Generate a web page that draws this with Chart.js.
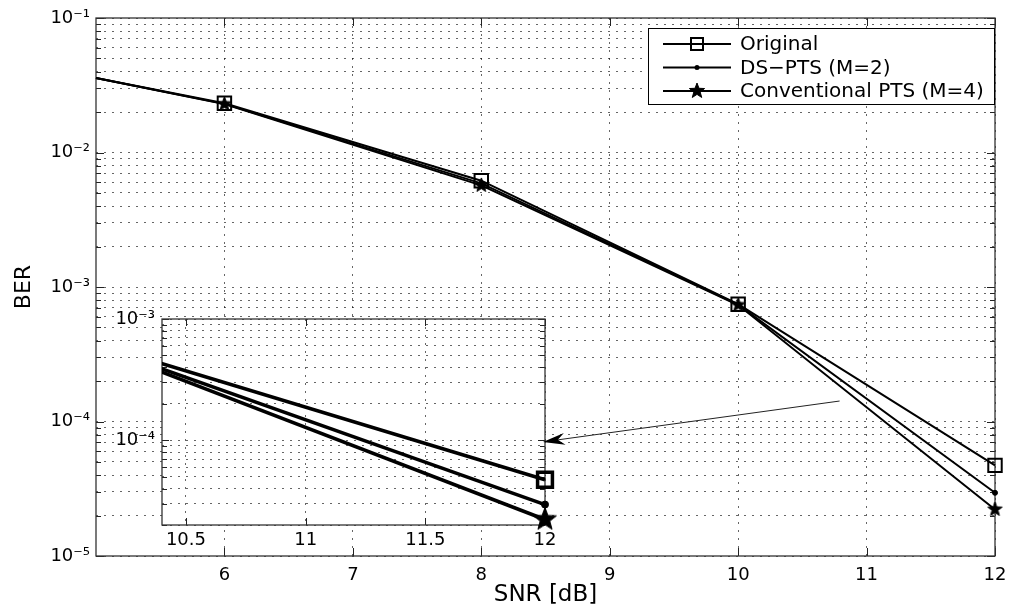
<!DOCTYPE html>
<html><head><meta charset="utf-8">
<script src="https://cdn.jsdelivr.net/npm/chart.js@4.4.1/dist/chart.umd.min.js"></script>
<style>
html,body{margin:0;padding:0;background:#fff;}
#wrap{position:relative;width:1010px;height:611px;}
canvas{position:absolute;left:0;top:0;}
</style></head><body>
<div id="wrap"><canvas id="main" width="1010" height="611"></canvas><canvas id="inset" width="1010" height="611"></canvas></div>
<script>
// ---- data ----
const snr = [5, 6, 8, 10, 12];
const markerSnr = [6, 8, 10, 12];
const berOriginal = [0.0358, 0.0232, 0.00617, 0.000745, 0.0000472];
const berDsPts    = [0.0358, 0.0230, 0.0059,  0.00074,  0.0000295];
const berConvPts  = [0.0358, 0.0229, 0.0057,  0.000735, 0.0000222];
const seriesLabels = ['Original', 'DS\u2212PTS (M=2)', 'Conventional PTS (M=4)'];
const xTickValues = [6, 7, 8, 9, 10, 11, 12];
const yDecades = [1e-5, 1e-4, 1e-3, 1e-2, 1e-1];
const insetXTickValues = [10.5, 11, 11.5, 12];
const insetYDecades = [1e-5, 1e-4, 1e-3];
const arrowTail = {x: 10.79, y: 1.42e-4};
const arrowHead = {x: 8.48, y: 7.05e-5};

// ---- helpers ----
const FONT = 'DejaVu Sans';
const GRID = 'rgba(0,0,0,0.6)';
const SUP = {'-':'\u207B','0':'\u2070','1':'\u00B9','2':'\u00B2','3':'\u00B3','4':'\u2074','5':'\u2075','6':'\u2076','7':'\u2077','8':'\u2078','9':'\u2079'};
function isDecade(v){ const e = Math.log10(v); return Math.abs(e - Math.round(e)) < 1e-6; }
function powLabel(v){ if (!isDecade(v)) return ''; const r = Math.round(Math.log10(v)); return '10' + String(r).split('').map(c => SUP[c]).join(''); }
function logTicks(decades, min, max){
  const out = [];
  decades.forEach(d => { for (let m = 1; m < 10; m++){ const v = m * d; if (v >= min * 0.999 && v <= max * 1.001) out.push({value: v}); } });
  return out;
}
function starCanvas(R){
  const s = Math.ceil(2 * R + 4);
  const c = document.createElement('canvas'); c.width = s; c.height = s;
  const g = c.getContext('2d'); g.translate(s / 2, s / 2);
  g.beginPath();
  for (let i = 0; i < 10; i++){ const r = i % 2 === 0 ? R : R * 0.42; const a = -Math.PI / 2 + i * Math.PI / 5; g.lineTo(r * Math.cos(a), r * Math.sin(a)); }
  g.closePath(); g.fillStyle = '#000'; g.fill(); g.lineWidth = 1; g.strokeStyle = '#000'; g.stroke();
  return c;
}
const starMain = starCanvas(7.5);
const starInset = starCanvas(12);
const starLegend = starCanvas(8);

function makeDatasets(cfg){
  const ys = [berOriginal, berDsPts, berConvPts];
  return ys.map((arr, k) => ({
    label: seriesLabels[k],
    data: snr.map((x, i) => ({x: x, y: arr[i]})),
    borderColor: '#000',
    backgroundColor: '#000',
    borderWidth: cfg.lw,
    tension: 0,
    pointStyle: ['rect', 'circle', cfg.star][k],
    pointRadius: c => (c.raw && markerSnr.includes(c.raw.x)) ? cfg.r[k] : 0,
    pointBorderWidth: cfg.pbw[k],
    pointBackgroundColor: k === 0 ? 'rgba(0,0,0,0)' : '#000',
    pointBorderColor: '#000',
    clip: cfg.clip
  }));
}

function drawFrame(chart, lenMajor, lenMinor){
  const {ctx, chartArea: a, scales: {x, y}} = chart;
  ctx.save();
  ctx.strokeStyle = '#222'; ctx.lineWidth = 1;
  ctx.beginPath();
  y.ticks.forEach(t => {
    const p = Math.round(y.getPixelForValue(t.value)) + 0.5;
    const L = isDecade(t.value) ? lenMajor : lenMinor;
    ctx.moveTo(a.left, p); ctx.lineTo(a.left + L, p);
    ctx.moveTo(a.right, p); ctx.lineTo(a.right - L, p);
  });
  x.ticks.forEach(t => {
    const p = Math.round(x.getPixelForValue(t.value)) + 0.5;
    ctx.moveTo(p, a.bottom); ctx.lineTo(p, a.bottom - lenMajor);
    ctx.moveTo(p, a.top); ctx.lineTo(p, a.top + lenMajor);
  });
  ctx.stroke();
  ctx.strokeStyle = '#333'; ctx.lineWidth = 1.3;
  ctx.strokeRect(a.left, a.top, a.right - a.left, a.bottom - a.top);
  ctx.restore();
}

function drawLegend(chart){
  const {ctx, chartArea: a} = chart;
  const w = 347, h = 77;
  const x0 = a.right - w, y0 = a.top + 10;
  ctx.save();
  ctx.fillStyle = '#fff'; ctx.fillRect(x0, y0, w, h);
  ctx.strokeStyle = '#000'; ctx.lineWidth = 1; ctx.strokeRect(x0 + 0.5, y0 + 0.5, w - 1, h - 1);
  const rows = [16, 39.5, 63];
  chart.data.datasets.forEach((ds, k) => {
    const yy = y0 + rows[k];
    ctx.beginPath(); ctx.moveTo(x0 + 15, yy); ctx.lineTo(x0 + 83, yy);
    ctx.lineWidth = 2; ctx.strokeStyle = '#000'; ctx.stroke();
    const cx = x0 + 49;
    if (k === 0){ ctx.lineWidth = 2; ctx.strokeRect(cx - 6, yy - 6, 12, 12); }
    else if (k === 1){ ctx.beginPath(); ctx.arc(cx, yy, 2.5, 0, Math.PI * 2); ctx.fillStyle = '#000'; ctx.fill(); }
    else { ctx.drawImage(starLegend, cx - starLegend.width / 2, yy - starLegend.height / 2); }
    ctx.fillStyle = '#000'; ctx.font = '20px "' + FONT + '"'; ctx.textBaseline = 'middle'; ctx.textAlign = 'left';
    ctx.fillText(ds.label, x0 + 92, yy + 1);
  });
  ctx.restore();
}

const mainPlugin = {
  id: 'mainDeco',
  beforeDraw(chart){ const c = chart.ctx; c.save(); c.fillStyle = '#fff'; c.fillRect(0, 0, chart.width, chart.height); c.restore(); },
  beforeDatasetsDraw(chart){ drawFrame(chart, 8, 5); },
  afterDraw(chart){ drawLegend(chart); }
};

const mainChart = new Chart(document.getElementById('main'), {
  type: 'line',
  data: { datasets: makeDatasets({lw: 2, r: [9.5, 2.5, 7.5], star: starMain, pbw: [2, 1, 1], clip: false}) },
  options: {
    responsive: false, animation: false, events: [],
    layout: { padding: { left: 0, top: 18, right: 15, bottom: 0 } },
    plugins: { legend: { display: false }, tooltip: { enabled: false } },
    scales: {
      x: {
        type: 'linear', min: 5, max: 12,
        afterBuildTicks: s => { s.ticks = xTickValues.map(v => ({value: v})); },
        afterFit: s => { s.height = 55; s.paddingLeft = 0; s.paddingRight = 0; },
        grid: { color: GRID, lineWidth: 1, drawTicks: false },
        border: { display: false, dash: [2, 6] },
        ticks: { color: '#000', font: { family: FONT, size: 18 }, padding: 9, maxRotation: 0, autoSkip: false, callback: v => String(v) },
        title: { display: true, text: 'SNR [dB]', color: '#000', font: { family: FONT, size: 23 }, padding: { top: 0, bottom: 2 } }
      },
      y: {
        type: 'logarithmic', min: 1e-5, max: 1e-1,
        afterBuildTicks: s => { s.ticks = logTicks(yDecades, 1e-5, 1e-1); },
        afterFit: s => { s.width = 96; },
        grid: { color: GRID, lineWidth: 1, drawTicks: false },
        border: { display: false, dash: [2, 6] },
        ticks: { color: '#000', font: { family: FONT, size: 18 }, padding: 6, autoSkip: false, callback: v => powLabel(v) },
        title: { display: true, text: 'BER', color: '#000', font: { family: FONT, size: 22 }, padding: { top: 11, bottom: 0 } }
      }
    }
  },
  plugins: [mainPlugin]
});

function drawArrow(chart){
  const ctx = chart.ctx;
  const mx = mainChart.scales.x, my = mainChart.scales.y;
  const x1 = mx.getPixelForValue(arrowTail.x), y1 = my.getPixelForValue(arrowTail.y);
  const x2 = mx.getPixelForValue(arrowHead.x), y2 = my.getPixelForValue(arrowHead.y);
  const dx = x2 - x1, dy = y2 - y1, len = Math.hypot(dx, dy);
  const ux = dx / len, uy = dy / len, px = -uy, py = ux;
  const L = 22, W = 6, N = 15;
  ctx.save();
  ctx.strokeStyle = '#222'; ctx.lineWidth = 1;
  ctx.beginPath(); ctx.moveTo(x1, y1); ctx.lineTo(x2 - ux * N, y2 - uy * N); ctx.stroke();
  ctx.fillStyle = '#000';
  ctx.beginPath();
  ctx.moveTo(x2, y2);
  ctx.lineTo(x2 - ux * L + px * W, y2 - uy * L + py * W);
  ctx.lineTo(x2 - ux * N, y2 - uy * N);
  ctx.lineTo(x2 - ux * L - px * W, y2 - uy * L - py * W);
  ctx.closePath(); ctx.fill();
  ctx.restore();
}

const insetPlugin = {
  id: 'insetDeco',
  beforeDraw(chart){ const a = chart.chartArea, c = chart.ctx; c.save(); c.fillStyle = '#fff'; c.fillRect(a.left, a.top, a.right - a.left, a.bottom - a.top); c.restore(); },
  beforeDatasetsDraw(chart){ drawFrame(chart, 7, 5); },
  afterDraw(chart){ drawArrow(chart); }
};

const insetChart = new Chart(document.getElementById('inset'), {
  type: 'line',
  data: { datasets: makeDatasets({lw: 3.5, r: [10.5, 3.5, 12], star: starInset, pbw: [3.5, 1, 1], clip: {left: 0, top: 0, right: 14, bottom: 14}}) },
  options: {
    responsive: false, animation: false, events: [],
    layout: { padding: { left: 0, top: 319, right: 465, bottom: 0 } },
    plugins: { legend: { display: false }, tooltip: { enabled: false } },
    scales: {
      x: {
        type: 'linear', min: 10.4, max: 12,
        afterBuildTicks: s => { s.ticks = insetXTickValues.map(v => ({value: v})); },
        afterFit: s => { s.height = 86; },
        grid: { color: GRID, lineWidth: 1, drawTicks: false },
        border: { display: false, dash: [2, 6] },
        ticks: { color: '#000', font: { family: FONT, size: 18 }, padding: 5, maxRotation: 0, autoSkip: false, callback: v => String(v) }
      },
      y: {
        type: 'logarithmic', min: 2e-5, max: 1e-3,
        afterBuildTicks: s => { s.ticks = logTicks(insetYDecades, 2e-5, 1e-3); },
        afterFit: s => { s.width = 162; },
        grid: { color: GRID, lineWidth: 1, drawTicks: false },
        border: { display: false, dash: [2, 6] },
        ticks: { color: '#000', font: { family: FONT, size: 18 }, padding: 7, autoSkip: false, callback: v => powLabel(v) }
      }
    }
  },
  plugins: [insetPlugin]
});
</script>
</body></html>
